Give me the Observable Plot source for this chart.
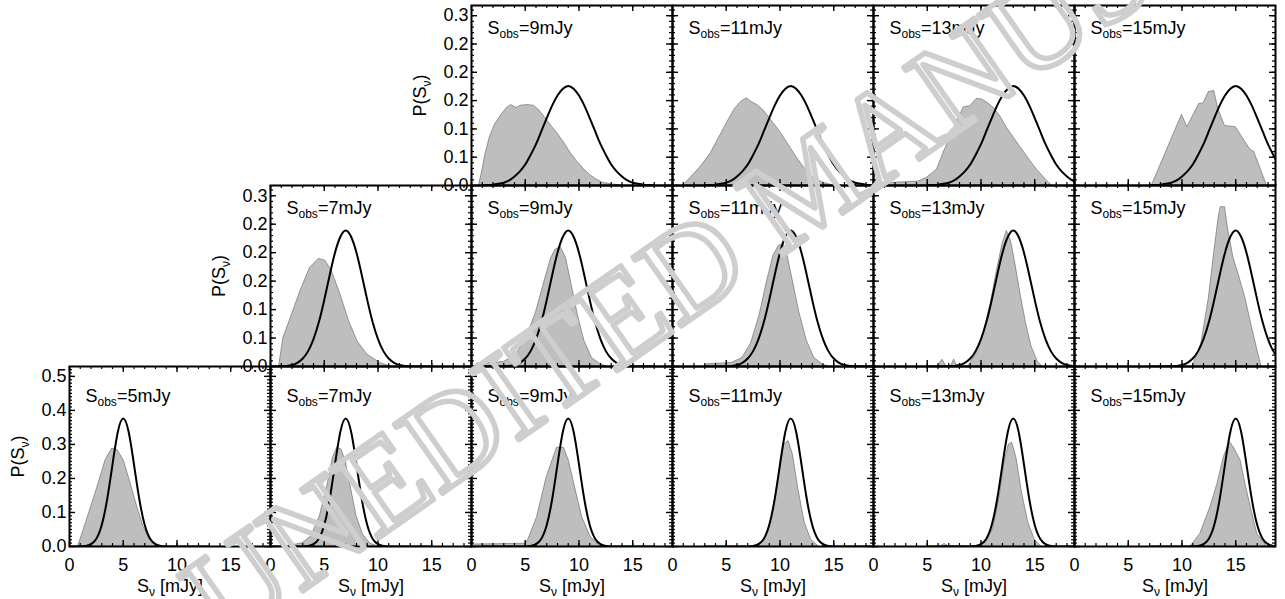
<!DOCTYPE html>
<html>
<head>
<meta charset="utf-8">
<script src="https://cdn.jsdelivr.net/npm/d3@7"></script>
<script src="https://cdn.jsdelivr.net/npm/@observablehq/plot@0.6"></script>
<style>
  body { margin: 0; background: #fff; }
  #chart { position: relative; width: 1285px; height: 599px; overflow: hidden; background: #fff;
           font-family: "Liberation Sans", Arial, Helvetica, sans-serif; }
  #chart svg { position: absolute; overflow: visible; }
</style>
</head>
<body>
<div id="chart"></div>
<script>
// ---------------- DATA ----------------
const sobsTop = [9, 11, 13, 15];
const sobsMid = [7, 9, 11, 13, 15];
const sobsBot = [5, 7, 9, 11, 13, 15];

const xMajorTicks = [0, 5, 10, 15];
const xTickLabels = ["0", "5", "10", "15"];
const yMajorTop = [0, 0.05, 0.10, 0.15, 0.20, 0.25, 0.30];
const yLabelsTop = ["0.0", "0.1", "0.1", "0.2", "0.2", "0.2", "0.3"];
const yMajorBot = [0, 0.1, 0.2, 0.3, 0.4, 0.5];
const yLabelsBot = ["0.0", "0.1", "0.2", "0.3", "0.4", "0.5"];

// model curve profiles (value vs offset from S_obs)
const gaussOffsets = [-8,-7.5,-7,-6.5,-6,-5.5,-5,-4.5,-4,-3.5,-3,-2.5,-2,-1.5,-1,-0.5,0,0.5,1,1.5,2,2.5,3,3.5,4,4.5,5,5.5,6,6.5,7,7.5,8];
const gaussTop = [0.0003,0.0007,0.0015,0.003,0.005,0.009,0.016,0.025,0.037,0.054,0.073,0.096,0.119,0.141,0.159,0.171,0.176,0.171,0.159,0.141,0.119,0.096,0.073,0.054,0.037,0.025,0.016,0.009,0.005,0.003,0.0015,0.0007,0.0003];
const gaussMid = [0,0,0,0.0001,0.0004,0.001,0.0027,0.0065,0.014,0.027,0.048,0.078,0.117,0.160,0.200,0.228,0.239,0.228,0.200,0.160,0.117,0.078,0.048,0.027,0.014,0.0065,0.0027,0.001,0.0004,0.0001,0,0,0];
const gaussBot = [0,0,0,0,0,0,0,0,0.0003,0.0016,0.007,0.023,0.063,0.138,0.241,0.337,0.376,0.337,0.241,0.138,0.063,0.023,0.007,0.0016,0.0003,0,0,0,0,0,0,0,0];

// grey distributions [S, P]
const distT9 = [[0.7,0],[1.0,0.025],[1.3,0.055],[1.7,0.085],[2.2,0.108],[2.8,0.125],[3.3,0.137],[3.7,0.142],[4.2,0.137],[4.6,0.141],[5.2,0.142],[5.8,0.141],[6.3,0.133],[6.8,0.121],[7.4,0.106],[8.0,0.092],[8.6,0.076],[9.2,0.058],[9.8,0.043],[10.4,0.030],[11.0,0.019],[11.6,0.011],[12.2,0.005],[13.0,0.002],[14.0,0]];
const distT11 = [[1.0,0],[1.5,0.01],[2.5,0.03],[3.5,0.055],[4.5,0.09],[5.2,0.115],[5.8,0.135],[6.4,0.148],[6.9,0.154],[7.4,0.147],[7.9,0.142],[8.5,0.132],[9.2,0.115],[10.0,0.095],[10.8,0.072],[11.6,0.048],[12.4,0.028],[13.2,0.013],[14.0,0.005],[15.0,0]];
const distT13 = [[0.7,0],[1.0,0.004],[4.2,0.007],[5.0,0.014],[5.9,0.028],[6.7,0.066],[7.5,0.102],[8.4,0.138],[9.0,0.140],[9.6,0.153],[10.1,0.152],[10.6,0.146],[11.2,0.137],[11.8,0.122],[12.4,0.102],[13.4,0.075],[14.3,0.051],[15.2,0.028],[16.2,0.007],[16.6,0]];
const distT15 = [[7.2,0],[10.0,0.125],[10.5,0.103],[11.6,0.144],[12.0,0.145],[12.5,0.165],[13.0,0.167],[13.4,0.134],[14.0,0.105],[15.0,0.103],[16.4,0.062],[16.7,0.060],[17.9,0]];

const distM7 = [[0.8,0],[1.2,0.050],[1.9,0.086],[2.8,0.133],[3.7,0.174],[4.5,0.189],[5.1,0.186],[5.7,0.168],[6.5,0.127],[7.3,0.080],[8.1,0.044],[9.0,0.021],[10.2,0.006],[11.2,0]];
const distM9 = [[0.3,0],[0.5,0.005],[2.0,0.006],[3.0,0.008],[4.0,0.018],[5.0,0.045],[6.0,0.095],[6.8,0.150],[7.4,0.190],[7.8,0.205],[8.3,0.210],[8.8,0.190],[9.3,0.145],[9.9,0.090],[10.5,0.045],[11.2,0.015],[12.0,0.004],[12.6,0]];
const distM11 = [[3.0,0],[3.2,0.004],[5.5,0.006],[6.5,0.015],[7.3,0.040],[8.1,0.090],[8.8,0.150],[9.4,0.195],[9.9,0.212],[10.3,0.215],[10.7,0.195],[11.2,0.150],[11.8,0.095],[12.5,0.045],[13.2,0.015],[14.0,0.003],[14.5,0]];
const distM13 = [[6.0,0],[6.4,0.012],[6.8,0],[7.2,0],[7.5,0.012],[7.8,0],[8.8,0],[9.5,0.02],[10.2,0.055],[10.9,0.11],[11.5,0.17],[12.0,0.215],[12.4,0.238],[12.8,0.22],[13.2,0.18],[13.7,0.125],[14.2,0.075],[14.7,0.035],[15.3,0.008],[15.7,0]];
const distM15 = [[11.0,0],[11.8,0.04],[12.5,0.12],[13.0,0.2],[13.4,0.26],[13.6,0.28],[14.0,0.28],[14.3,0.24],[14.8,0.19],[15.3,0.16],[15.9,0.12],[16.5,0.07],[17.0,0.03],[17.4,0]];

const distB5 = [[0.8,0],[1.6,0.076],[2.6,0.174],[3.35,0.253],[3.95,0.287],[4.45,0.284],[5.05,0.253],[5.7,0.184],[6.3,0.116],[6.9,0.057],[7.5,0.018],[8.2,0]];
const distB7 = [[1.0,0],[2.0,0.003],[3.0,0.01],[3.8,0.03],[4.6,0.09],[5.3,0.18],[5.8,0.26],[6.2,0.29],[6.6,0.285],[7.0,0.25],[7.5,0.17],[8.0,0.09],[8.6,0.035],[9.3,0.008],[10.0,0]];
const distB9 = [[0.2,0],[0.3,0.006],[4.9,0.008],[5.2,0.013],[6.1,0.086],[7.0,0.204],[7.95,0.290],[8.6,0.290],[9.05,0.253],[9.7,0.165],[10.3,0.086],[11.1,0.027],[12.0,0]];
const distB11 = [[7.8,0],[8.6,0.02],[9.3,0.09],[9.9,0.21],[10.4,0.30],[10.8,0.31],[11.2,0.27],[11.7,0.17],[12.3,0.07],[12.9,0.02],[13.6,0]];
const distB13 = [[6.3,0],[6.6,0.008],[7.0,0],[9.6,0],[10.4,0.01],[11.1,0.05],[11.7,0.14],[12.2,0.25],[12.6,0.30],[12.9,0.305],[13.3,0.26],[13.8,0.16],[14.4,0.07],[15.0,0.02],[15.6,0]];
const distB15 = [[10.8,0],[11.7,0.037],[12.65,0.116],[13.3,0.184],[13.9,0.263],[14.45,0.307],[14.8,0.292],[15.45,0.253],[15.9,0.184],[16.4,0.116],[17.0,0.037],[17.9,0]];

const watermarkText = "UNEDITED MANUSCRIPT";

// ---------------- LAYOUT ----------------
const FONT = '"Liberation Sans", Arial, Helvetica, sans-serif';
const colLeft = [69, 270, 471, 672, 873, 1074];
const rowTop = [5, 185, 366];
const rowH = [180, 181, 180];
const W = 201;
const X_MAX = 18.7;

const rows = [
  {sobs: sobsTop, dists: [distT9, distT11, distT13, distT15], firstCol: 2, prof: gaussTop,
   yMax: 0.318, yMajor: yMajorTop, yLabels: yLabelsTop, yMinorStep: 0.01, labelBase: 28, showX: false},
  {sobs: sobsMid, dists: [distM7, distM9, distM11, distM13, distM15], firstCol: 1, prof: gaussMid,
   yMax: 0.318, yMajor: yMajorTop, yLabels: yLabelsTop, yMinorStep: 0.01, labelBase: 28, showX: false},
  {sobs: sobsBot, dists: [distB5, distB7, distB9, distB11, distB13, distB15], firstCol: 0, prof: gaussBot,
   yMax: 0.529, yMajor: yMajorBot, yLabels: yLabelsBot, yMinorStep: 0.01, labelBase: 35, showX: true}
];

const chart = document.getElementById("chart");

function subscripts(svg) {
  d3.select(svg).selectAll("text").each(function () {
    const t = this.textContent;
    if (!t.includes("_{")) return;
    const size = parseFloat(this.getAttribute("font-size") || this.parentNode.getAttribute("font-size") || 17);
    const subSize = Math.round(size * 0.66);
    const shift = size * 0.27;
    const parts = t.split(/(_\{[^}]*\})/);
    this.textContent = "";
    let wasSub = false;
    for (const p of parts) {
      if (!p) continue;
      const m = p.match(/^_\{(.*)\}$/);
      const ts = d3.select(this).append("tspan");
      if (m) { ts.text(m[1]).attr("font-size", subSize).attr("dy", shift); wasSub = true; }
      else { ts.text(p); if (wasSub) { ts.attr("dy", -shift); wasSub = false; } }
    }
  });
}

rows.forEach((row, r) => {
  const H = rowH[r];
  const xMinor = d3.range(0, 19, 1);
  const yMinor = d3.range(0, row.yMax, row.yMinorStep);
  row.sobs.forEach((s, k) => {
    const c = row.firstCol + k;
    const dist = row.dists[k].map(([x, y]) => ({x, y}));
    const curve = gaussOffsets.map((d, i) => ({x: s + d, y: row.prof[i]}));
    const marks = [
      Plot.areaY(dist, {x: "x", y: "y", fill: "#bebebe", stroke: "#606060", strokeWidth: 0.6, clip: true}),
      Plot.line(curve, {x: "x", y: "y", stroke: "#000", strokeWidth: 2, curve: "natural", clip: true}),
      // inward ticks, bottom & top
      Plot.tickX(xMinor, {x: d => d, insetTop: H - 3, stroke: "#000", strokeWidth: 1.2}),
      Plot.tickX(xMinor, {x: d => d, insetBottom: H - 3, stroke: "#000", strokeWidth: 1.2}),
      Plot.tickX(xMajorTicks, {x: d => d, insetTop: H - 6, stroke: "#000", strokeWidth: 1.4}),
      Plot.tickX(xMajorTicks, {x: d => d, insetBottom: H - 6, stroke: "#000", strokeWidth: 1.4}),
      // inward ticks, left & right
      Plot.tickY(yMinor, {y: d => d, insetRight: W - 3, stroke: "#000", strokeWidth: 1.2}),
      Plot.tickY(yMinor, {y: d => d, insetLeft: W - 3, stroke: "#000", strokeWidth: 1.2}),
      Plot.tickY(row.yMajor, {y: d => d, insetRight: W - 6, stroke: "#000", strokeWidth: 1.4}),
      Plot.tickY(row.yMajor, {y: d => d, insetLeft: W - 6, stroke: "#000", strokeWidth: 1.4}),
      Plot.frame({stroke: "#000", strokeWidth: 2}),
      Plot.text(["S_{obs}=" + s + "mJy"], {text: d => d, frameAnchor: "top-left", dx: 16, dy: row.labelBase,
        textAnchor: "start", lineAnchor: "bottom", fontSize: 18, fill: "#000"})
    ];
    if (k === 0) {
      marks.push(Plot.text(row.yMajor, {y: d => d, text: (d, i) => row.yLabels[i], frameAnchor: "left", dx: -3,
        textAnchor: "end", lineAnchor: "middle", fontSize: 18, fill: "#000"}));
      marks.push(Plot.text(["P(S_{ν})"], {text: d => d, frameAnchor: "left", dx: -51, rotate: -90,
        textAnchor: "middle", lineAnchor: "middle", fontSize: 18, fill: "#000"}));
    }
    if (row.showX) {
      marks.push(Plot.text(xMajorTicks, {x: d => d, text: (d, i) => xTickLabels[i], frameAnchor: "bottom", dy: 24,
        textAnchor: "middle", lineAnchor: "bottom", fontSize: 18, fill: "#000"}));
      marks.push(Plot.text(["S_{ν} [mJy]"], {text: d => d, frameAnchor: "bottom", dy: 45,
        textAnchor: "middle", lineAnchor: "bottom", fontSize: 18, fill: "#000"}));
    }
    const svg = Plot.plot({
      width: W, height: H,
      marginTop: 0, marginRight: 0, marginBottom: 0, marginLeft: 0,
      x: {domain: [0, X_MAX], axis: null},
      y: {domain: [0, row.yMax], axis: null},
      style: {overflow: "visible", background: "transparent", fontFamily: FONT, color: "#000"},
      marks
    });
    svg.style.position = "absolute";
    svg.style.left = colLeft[c] + "px";
    svg.style.top = rowTop[r] + "px";
    subscripts(svg);
    chart.appendChild(svg);
  });
});

// watermark
const wm = Plot.plot({
  width: 1285, height: 599, margin: 0,
  style: {overflow: "visible", background: "transparent", fontFamily: '"Liberation Serif", "Times New Roman", serif'},
  marks: [
    Plot.text([watermarkText], {text: d => d, frameAnchor: "top-left", dx: 200, dy: 612, rotate: -35,
      textAnchor: "start", lineAnchor: "middle", fontSize: 128, fill: "none", stroke: "#cecece", strokeWidth: 5.5})
  ]
});
wm.style.position = "absolute";
wm.style.left = "0px";
wm.style.top = "0px";
wm.style.pointerEvents = "none";
chart.appendChild(wm);
</script>
</body>
</html>
